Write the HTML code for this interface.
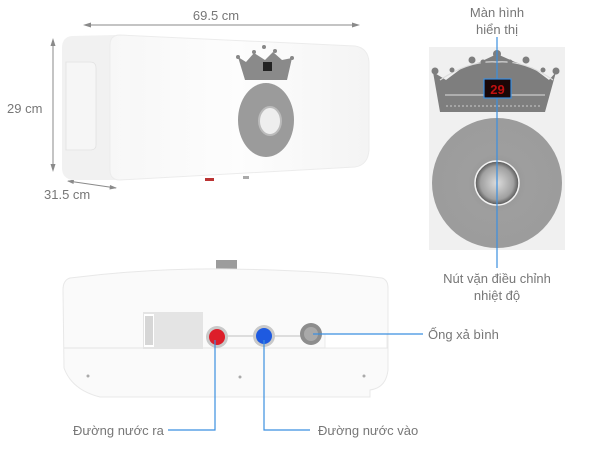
<!DOCTYPE html>
<html><head><meta charset="utf-8"><style>
html,body{margin:0;padding:0;background:#fff;width:600px;height:450px;overflow:hidden}
svg{display:block}
text{font-family:"Liberation Sans","DejaVu Sans",sans-serif;fill:#777;font-size:13px}
</style></head><body>
<svg width="600" height="450" viewBox="0 0 600 450" xmlns="http://www.w3.org/2000/svg">
<defs>
<radialGradient id="knob" cx="50%" cy="50%" r="50%"><stop offset="0" stop-color="#dcdcdc"/><stop offset="0.75" stop-color="#a0a0a0"/><stop offset="1" stop-color="#555"/></radialGradient>
<radialGradient id="disc" cx="50%" cy="50%" r="50%"><stop offset="0" stop-color="#8c8c8c"/><stop offset="0.45" stop-color="#9e9e9e"/><stop offset="1" stop-color="#9c9c9c"/></radialGradient>
<linearGradient id="face" x1="0" y1="0" x2="1" y2="0"><stop offset="0" stop-color="#f7f7f7"/><stop offset="0.5" stop-color="#fdfdfd"/><stop offset="1" stop-color="#f4f4f4"/></linearGradient>
</defs>
<!-- dimension arrows -->
<g stroke="#8a8a8a" stroke-width="1" fill="#8a8a8a">
<line x1="85" y1="25" x2="358" y2="25"/>
<polygon points="83,25 91,22.5 91,27.5" stroke="none"/>
<polygon points="360,25 352,22.5 352,27.5" stroke="none"/>
<line x1="53" y1="40" x2="53" y2="170"/>
<polygon points="53,38 50.5,46 55.5,46" stroke="none"/>
<polygon points="53,172 50.5,164 55.5,164" stroke="none"/>
<line x1="68" y1="181" x2="116" y2="188"/>
<polygon points="67,181 74,179.5 73.5,184" stroke="none"/>
<polygon points="117,188 110,185 109.5,189.5" stroke="none"/>
</g>
<text x="216" y="20" text-anchor="middle">69.5 cm</text>
<text x="7" y="113">29 cm</text>
<text x="44" y="199">31.5 cm</text>

<!-- top heater -->
<path d="M72,36 Q62,37 62,48 L62,168 Q62,178 72,180 L115,180 L115,35 Z" fill="#f1f1f1"/>
<path d="M66,62 L90,62 Q96,62 96,68 L96,145 Q96,150 90,150 L66,150 Z" fill="#f6f6f6" stroke="#e2e2e2" stroke-width="0.8"/>
<path d="M120,35 L355,46 Q368,48 369,62 L369,150 Q368,165 355,167 L120,180 Q110,180 110,170 L110,45 Q110,35 120,35 Z" fill="url(#face)" stroke="#ececec" stroke-width="1"/>
<!-- small crown -->
<path d="M238,57 L246,62 L254,53 L265,60 L273,52 L282,60 L292,58 L287,80 L245,80 Z" fill="#8a8a8a"/>
<g fill="#888"><circle cx="238" cy="57" r="2"/><circle cx="254" cy="52" r="2"/><circle cx="264" cy="47" r="2"/><circle cx="275" cy="51" r="2"/><circle cx="292" cy="58" r="2"/></g>
<rect x="263" y="62" width="9" height="9" fill="#222"/>
<ellipse cx="266" cy="120" rx="28" ry="37" fill="#9b9b9b"/>
<ellipse cx="270" cy="121" rx="11" ry="14" fill="#eeeeee" stroke="#bbb" stroke-width="2"/>
<rect x="205" y="178" width="9" height="3" fill="#b33"/>
<rect x="243" y="176" width="6" height="3" fill="#aaa"/>

<!-- right panel -->
<rect x="429" y="47" width="136" height="203" fill="#f0f0f0"/>
<path d="M433,72 L446,80 L462,68 L480,62 L497,54 L515,62 L533,68 L549,80 L556,72 L545,112 L440,112 Z" fill="#7e7e7e"/>
<path d="M440,80 Q470,60 497,62 Q525,60 553,80" fill="none" stroke="#ddd" stroke-width="1.2"/>
<path d="M445,95 L545,95" stroke="#ddd" stroke-width="1"/>
<path d="M446,106 L542,106" stroke="#ccc" stroke-width="1" stroke-dasharray="2,2"/>
<g fill="#7e7e7e"><circle cx="435" cy="71" r="3.5"/><circle cx="452" cy="70" r="2.5"/><circle cx="472" cy="60" r="3.5"/><circle cx="483" cy="62" r="2.5"/><circle cx="497" cy="54" r="4"/><circle cx="510" cy="62" r="2.5"/><circle cx="526" cy="60" r="3.5"/><circle cx="543" cy="70" r="2.5"/><circle cx="556" cy="71" r="3.5"/></g>
<rect x="484" y="79" width="27" height="19" fill="#1a0606" stroke="#3b8fe0" stroke-width="1.2"/>
<text x="497.5" y="94" text-anchor="middle" style="fill:#c01010;font-size:13px;font-weight:bold">29</text>
<circle cx="497" cy="183" r="65" fill="url(#disc)"/>
<circle cx="497" cy="183" r="22" fill="url(#knob)" stroke="#f2f2f2" stroke-width="1.5"/>
<line x1="497" y1="37" x2="497" y2="79" stroke="#3b8fe0" stroke-width="1.2"/>
<line x1="497" y1="98" x2="497" y2="268" stroke="#3b8fe0" stroke-width="1.2"/>
<text x="497" y="17" text-anchor="middle">Màn hình</text>
<text x="497" y="34" text-anchor="middle">hiển thị</text>
<text x="497" y="283" text-anchor="middle">Nút vặn điều chỉnh</text>
<text x="497" y="300" text-anchor="middle">nhiệt độ</text>

<!-- bottom heater -->
<rect x="216" y="260" width="21" height="12" fill="#9c9c9c"/>
<path d="M70,278 Q150,268 226,269 Q320,270 382,278 Q388,280 388,288 L388,370 Q386,388 370,390 L370,397 L100,397 Q72,390 64,368 L63,290 Q63,280 70,278 Z" fill="#fafafa" stroke="#e8e8e8"/>
<line x1="64" y1="348" x2="388" y2="348" stroke="#e4e4e4"/>
<rect x="325" y="334" width="62" height="14" fill="#fff" stroke="#e6e6e6" stroke-width="0.8"/>
<rect x="143" y="312" width="60" height="37" fill="#e4e4e4"/>
<rect x="144" y="314" width="10" height="33" fill="#fff"/>
<g stroke="#777" stroke-width="0.6"><line x1="146" y1="316" x2="146" y2="345"/><line x1="148" y1="316" x2="148" y2="345"/><line x1="150" y1="316" x2="150" y2="345"/><line x1="152" y1="316" x2="152" y2="345"/></g>
<line x1="218" y1="336" x2="312" y2="336" stroke="#ddd" stroke-width="2"/>
<circle cx="217" cy="337" r="11" fill="#c9c9c9"/><circle cx="217" cy="337" r="8" fill="#dd1e2a"/>
<circle cx="264" cy="336" r="11" fill="#c9c9c9"/><circle cx="264" cy="336" r="8" fill="#1e5ae0"/>
<circle cx="311" cy="334" r="11" fill="#8d8d8d"/><circle cx="311" cy="334" r="7" fill="#a9a9a9"/>
<g fill="#aaa"><circle cx="88" cy="376" r="1.5"/><circle cx="240" cy="377" r="1.5"/><circle cx="364" cy="376" r="1.5"/></g>
<g stroke="#3b8fe0" stroke-width="1.2" fill="none">
<polyline points="215,340 215,430 168,430"/>
<polyline points="264,340 264,430 310,430"/>
<line x1="313" y1="334" x2="423" y2="334"/>
</g>
<text x="73" y="435">Đường nước ra</text>
<text x="318" y="435">Đường nước vào</text>
<text x="428" y="339">Ống xả bình</text>
</svg>
</body></html>
